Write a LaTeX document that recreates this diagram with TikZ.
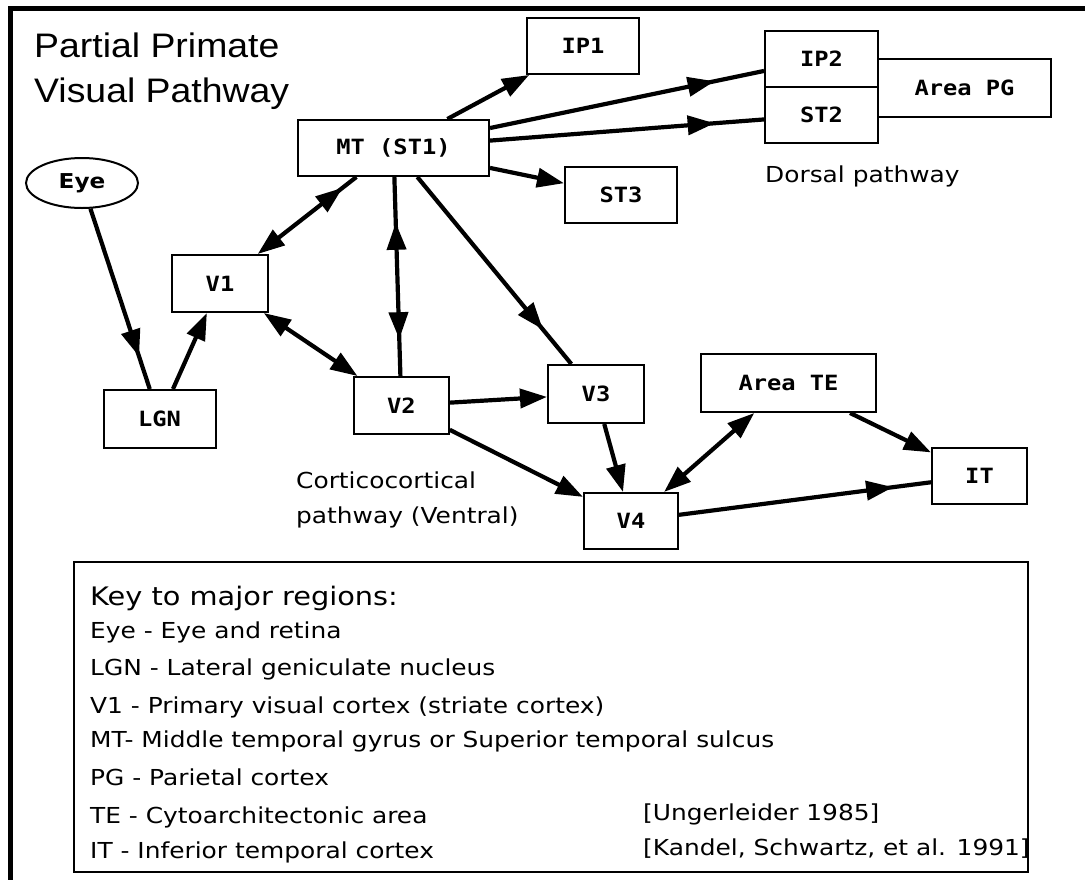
\documentclass[tikz,border=0pt]{standalone}
\usepackage{fontspec}
\setmainfont{DejaVu Sans}
\newfontfamily\titlefont[FakeStretch=1.1]{Liberation Sans}
\newfontfamily\boxfont[FakeStretch=1.13]{DejaVu Sans Mono}
\newfontfamily\keyfont[FakeStretch=1.13]{DejaVu Sans}
\usetikzlibrary{arrows.meta,decorations.markings,shapes.geometric}

\begin{document}
\begin{tikzpicture}[x=1pt,y=-1pt,
  >={Triangle[length=27pt,width=19pt]},
  region/.style={draw,line width=2pt,rectangle,inner sep=0pt,
    font=\boxfont\bfseries\fontsize{21}{25}\selectfont},
  conn/.style={line width=4.2pt},
  midarr/.style={postaction={decorate,decoration={markings,
      mark=at position #1 with {\arrow{>}}}}},
  midback/.style={postaction={decorate,decoration={markings,
      mark=at position #1 with {\arrowreversed{>}}}}},
  keyline/.style={anchor=base west,inner sep=0pt,font=\keyfont\fontsize{22}{26}\selectfont},
  title/.style={anchor=base west,inner sep=0pt,font=\titlefont\fontsize{34}{40}\selectfont}]

\useasboundingbox (0,0) rectangle (1085,879);

% outer frame (only its top and left sides fall inside the page)
\draw[line width=5pt] (1095,8) -- (10,8) -- (10,890);

% title
\node[title] (t1) at (34,57) {Partial Primate};
\node[title] (t2) at (34,102) {Visual Pathway};

% regions
\node[draw,line width=2pt,ellipse,minimum width=112pt,minimum height=50pt,inner sep=0pt,
      font=\keyfont\bfseries\fontsize{20.5}{24}\selectfont] (eye) at (82,183) {Eye};
\node[region,minimum width=191pt,minimum height=56pt] (mt) at (393.5,148) {MT (ST1)};
\node[region,minimum width=112pt,minimum height=56pt] (ip1) at (583,46) {IP1};
\node[region,minimum width=113pt,minimum height=56pt] (ip2) at (821.5,59) {IP2};
\node[region,minimum width=113pt,minimum height=56pt] (st2) at (821.5,115) {ST2};
\node[region,minimum width=173pt,minimum height=58pt] (pg) at (964.5,88) {Area PG};
\node[region,minimum width=112pt,minimum height=56pt] (st3) at (621,195) {ST3};
\node[region,minimum width=96pt,minimum height=57pt] (v1) at (220,283.5) {V1};
\node[region,minimum width=112pt,minimum height=58pt] (lgn) at (159.6,419) {LGN};
\node[region,minimum width=95pt,minimum height=57pt] (v2) at (401.3,405.5) {V2};
\node[region,minimum width=96pt,minimum height=58pt] (v3) at (596,394) {V3};
\node[region,minimum width=175pt,minimum height=58pt] (te) at (788.5,383) {Area TE};
\node[region,minimum width=95pt,minimum height=56pt] (it) at (979.5,476) {IT};
\node[region,minimum width=94pt,minimum height=56pt] (v4) at (631,521) {V4};

% pathway labels
\node[keyline] (dorsal) at (765,182) {Dorsal pathway};
\node[keyline] (cc1) at (296,488) {Corticocortical};
\node[keyline] (cc2) at (296,523) {pathway (Ventral)};

% connections
\draw[conn,->] (mt) -- (ip1);
\draw[conn,midarr=0.82] (mt) -- (ip2);
\draw[conn,midarr=0.82] (mt) -- (st2);
\draw[conn,->] (mt) -- (st3);
\draw[conn,->,midback=0.14] (mt) -- (v1);
\draw[conn,midback=0.23,midarr=0.815] (mt) -- (v2);
\draw[conn,midarr=0.815] (mt) -- (v3);
\draw[conn,midarr=0.82] (eye) -- (lgn);
\draw[conn,->] (lgn) -- (v1);
\draw[conn,<->] (v1) -- (v2);
\draw[conn,->] (v2) -- (v3);
\draw[conn,->] (v2) -- (v4);
\draw[conn,->] (v3) -- (v4);
\draw[conn,<->] (te) -- (v4);
\draw[conn,->] (te) -- (it);
\draw[conn,midarr=0.85] (v4) -- (it);

% key (the box edge is drawn over the closing bracket of the last citation)
\node[keyline] (r1) at (643,820) {[Ungerleider 1985]};
\node[keyline] (r2) at (643,855) {[Kandel, Schwartz, et al. 1991]};
\draw[line width=2.5pt] (74,562) rectangle (1028,872);
\node[keyline,font=\keyfont\fontsize{25.5}{30}\selectfont] (k0) at (90,605) {Key to major regions:};
\node[keyline] (k1) at (90,638) {Eye - Eye and retina};
\node[keyline] (k2) at (90,675) {LGN - Lateral geniculate nucleus};
\node[keyline] (k3) at (90,713) {V1 - Primary visual cortex (striate cortex)};
\node[keyline] (k4) at (90,747) {MT- Middle temporal gyrus or Superior temporal sulcus};
\node[keyline] (k5) at (90,785) {PG - Parietal cortex};
\node[keyline] (k6) at (90,823) {TE - Cytoarchitectonic area};
\node[keyline] (k7) at (90,858) {IT - Inferior temporal cortex};
\end{tikzpicture}
\end{document}
